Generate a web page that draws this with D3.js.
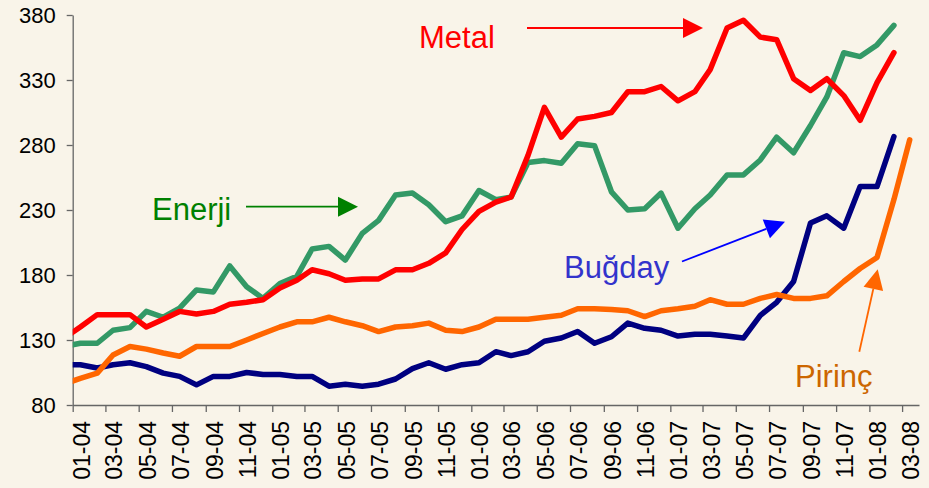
<!DOCTYPE html>
<html>
<head>
<meta charset="utf-8">
<script src="https://cdn.jsdelivr.net/npm/d3@7"></script>
<style>
  html, body { margin: 0; padding: 0; background: #F9F4E9; }
  svg { display: block; font-family: "Liberation Sans", Arial, sans-serif; }
</style>
</head>
<body>
<svg id="chart" width="929" height="488"></svg>
<script>
// Monthly observations (mid-month), Dec 2003 – Mar 2008
const months = [
  "12-03",
  "01-04","02-04","03-04","04-04","05-04","06-04","07-04","08-04","09-04","10-04","11-04","12-04",
  "01-05","02-05","03-05","04-05","05-05","06-05","07-05","08-05","09-05","10-05","11-05","12-05",
  "01-06","02-06","03-06","04-06","05-06","06-06","07-06","08-06","09-06","10-06","11-06","12-06",
  "01-07","02-07","03-07","04-07","05-07","06-07","07-07","08-07","09-07","10-07","11-07","12-07",
  "01-08","02-08","03-08"
];

// Price indices
const metal = [
  131,
  140, 149.5, 149.5, 149.5, 140, 146, 152, 150, 152, 157.5, 159, 161,
  170, 176, 184, 181, 176, 177, 177, 184, 184, 189, 197, 215,
  229, 236, 240, 272, 309, 286, 300, 302, 305, 321, 321, 325,
  314, 321, 338, 370, 376, 363, 361, 331, 322, 331, 318, 299,
  328, 351, null
];
const enerji = [
  125,
  127.5, 127.5, 137.5, 139.5, 152, 147.5, 154.5, 168.5, 167, 187, 171, 162,
  173.5, 179, 200, 202, 191.5, 212, 222, 241.5, 243, 234, 221, 225.5,
  245, 238, 240, 266.5, 268, 266, 281, 279.5, 244, 230, 231, 243,
  216, 231, 241.5, 257, 257, 268.5, 286, 274, 295, 317, 351, 348,
  357, 372, null
];
const bugday = [
  111,
  111, 108.5, 111, 112.5, 109.5, 104.5, 102, 95.5, 102, 102, 105, 103.5,
  103.5, 102, 102, 94.5, 96, 94.5, 96, 100, 108, 112.5, 107.5, 111,
  112.5, 121, 118, 121, 129, 131.5, 136.5, 127.5, 132.5, 143, 139, 137.5,
  133, 134.5, 134.5, 133, 131.5, 149, 159, 175, 220, 225.5, 216, 248,
  248, 286.5, null
];
const pirinc = [
  96,
  100.5, 104.5, 118.5, 125, 123, 120, 117.5, 125, 125, 125, 130, 135,
  140, 144, 144, 147.5, 144, 141, 136.5, 140, 141, 143, 137.5, 136.5,
  140, 146, 146, 146, 147.5, 149, 154, 154, 153.5, 152.5, 148, 152.5,
  154, 156, 161, 157.5, 157.5, 162, 165, 162, 162, 164, 175, 185,
  193.5, 238, 284
];

const xTickLabels = [
  "01-04","03-04","05-04","07-04","09-04","11-04",
  "01-05","03-05","05-05","07-05","09-05","11-05",
  "01-06","03-06","05-06","07-06","09-06","11-06",
  "01-07","03-07","05-07","07-07","09-07","11-07",
  "01-08","03-08"
];
const yTicks = [80, 130, 180, 230, 280, 330, 380];

const series = [
  { name: "Buğday", values: bugday, color: "#000080" },
  { name: "Pirinç", values: pirinc, color: "#FF6600" },
  { name: "Enerji", values: enerji, color: "#339966" },
  { name: "Metal",  values: metal,  color: "#FF0000" }
];

const svg = d3.select("#chart");
const plotLeft = 72.7, plotRight = 919, plotTop = 15, plotBottom = 405;

const parseMonth = d3.utcParse("%m-%y");
const dates = months.map(m => d3.utcDay.offset(parseMonth(m), 14));

const x = d3.scaleUtc()
  .domain([Date.UTC(2004, 0, 1), Date.UTC(2008, 3, 1)])
  .range([plotLeft, plotRight]);
const y = d3.scaleLinear().domain([80, 380]).range([plotBottom, plotTop]);

// clip the series to the plot area
svg.append("defs").append("clipPath").attr("id", "plot")
  .append("rect")
  .attr("x", plotLeft).attr("y", 0)
  .attr("width", plotRight - plotLeft + 20).attr("height", plotBottom + 10);

// axes
const axisColor = "#666";
const yAxis = svg.append("g")
  .attr("transform", `translate(${plotLeft},0)`)
  .call(d3.axisLeft(y).tickValues(yTicks).tickSize(6).tickSizeOuter(0).tickPadding(11));
yAxis.selectAll("text").attr("font-size", 22).attr("fill", "#000")
  .attr("font-family", "'Liberation Sans', Arial, sans-serif");

const xAxis = svg.append("g")
  .attr("transform", `translate(0,${plotBottom})`)
  .call(d3.axisBottom(x)
    .tickValues(xTickLabels.map(parseMonth))
    .tickFormat((d, i) => xTickLabels[i])
    .tickSize(7).tickSizeOuter(0));
xAxis.selectAll("text")
  .attr("font-size", 23).attr("fill", "#000")
  .attr("font-family", "'Liberation Sans', Arial, sans-serif")
  .attr("x", 0).attr("y", 0).attr("dy", null)
  .attr("text-anchor", "end")
  .attr("transform", "translate(16.5,16) rotate(-90)");

[yAxis, xAxis].forEach(a => {
  a.select(".domain").attr("stroke", axisColor).attr("stroke-width", 1.3);
  a.selectAll(".tick line").attr("stroke", axisColor).attr("stroke-width", 1.3);
});

// series lines
const line = d3.line()
  .defined(d => d.v != null)
  .x(d => x(d.date))
  .y(d => y(d.v));

svg.append("g").attr("clip-path", "url(#plot)")
  .selectAll("path")
  .data(series)
  .join("path")
  .attr("d", s => line(s.values.map((v, i) => ({ date: dates[i], v }))))
  .attr("fill", "none")
  .attr("stroke", s => s.color)
  .attr("stroke-width", 5.5)
  .attr("stroke-linejoin", "round")
  .attr("stroke-linecap", "round");

// labels with arrows
const notes = [
  { text: "Metal",  tx: 419, ty: 48, color: "#FF0000", arrow: "#FF0000", from: [527, 28], to: [703, 28] },
  { text: "Enerji", tx: 152, ty: 220, color: "#008000", arrow: "#008000", from: [246, 206.7], to: [358, 206.7] },
  { text: "Buğday", tx: 564, ty: 278, color: "#3333CC", arrow: "#0000FF", from: [682, 261.5], to: [785, 221.7] },
  { text: "Pirinç", tx: 795, ty: 386.5, color: "#CC6600", arrow: "#FF6600", from: [859.3, 351.7], to: [877.7, 269.3] }
];

const ng = svg.append("g");
notes.forEach(n => {
  ng.append("text")
    .attr("x", n.tx).attr("y", n.ty)
    .attr("font-size", 31)
    .attr("fill", n.color)
    .text(n.text);

  const [x0, y0] = n.from, [x1, y1] = n.to;
  const len = Math.hypot(x1 - x0, y1 - y0);
  const ux = (x1 - x0) / len, uy = (y1 - y0) / len;
  const headLen = 20, headHalf = 10;
  const bx = x1 - ux * headLen, by = y1 - uy * headLen;
  ng.append("line")
    .attr("x1", x0).attr("y1", y0).attr("x2", bx).attr("y2", by)
    .attr("stroke", n.arrow).attr("stroke-width", 1.8);
  ng.append("polygon")
    .attr("points", [
      [x1, y1],
      [bx - uy * headHalf, by + ux * headHalf],
      [bx + uy * headHalf, by - ux * headHalf]
    ].map(p => p.join(",")).join(" "))
    .attr("fill", n.arrow);
});
</script>
</body>
</html>
